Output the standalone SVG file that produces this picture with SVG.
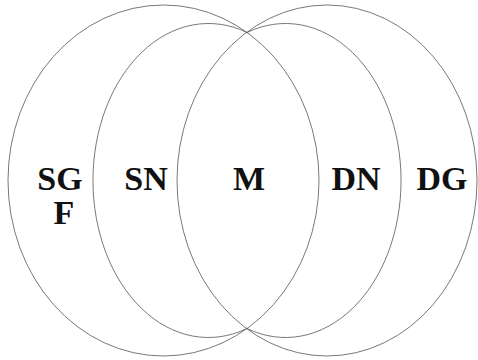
<svg xmlns="http://www.w3.org/2000/svg" width="478" height="360" viewBox="0 0 478 360">
<style>
.o{fill:none;stroke:#555;stroke-width:0.8}
.t{font-family:"Liberation Serif","Times New Roman",serif;font-weight:bold;font-size:34px;fill:#111;text-anchor:middle}
</style>
<rect width="478" height="360" fill="#fff"/>
<g id="sgf">
<ellipse class="o" cx="163.5" cy="180.5" rx="155.5" ry="175.5"/>
<text class="t" x="60" y="190">SG</text>
<text class="t" x="64" y="224">F</text>
</g>
<g id="sn">
<path class="o" d="M247,32.5 A115.5,157 0 1 0 247,328.5"/>
<text class="t" x="146" y="190">SN</text>
</g>
<g id="m">
<text class="t" x="249" y="190">M</text>
</g>
<g id="dn">
<path class="o" d="M247,32.5 A115.5,157 0 1 1 247,328.5"/>
<text class="t" x="356" y="190">DN</text>
</g>
<g id="dg">
<ellipse class="o" cx="327" cy="180.5" rx="150" ry="175.5"/>
<text class="t" x="442" y="190">DG</text>
</g>
</svg>
